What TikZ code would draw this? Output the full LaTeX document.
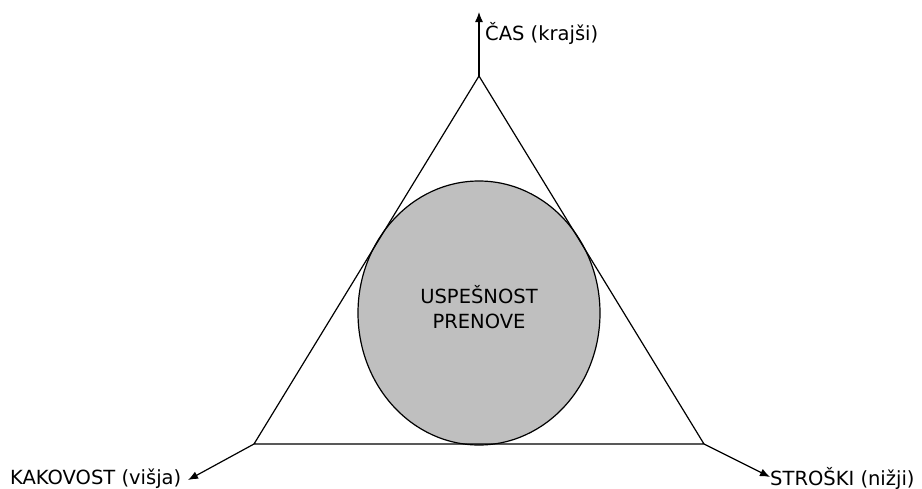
\documentclass[tikz,border=0pt]{standalone}
\usepackage{fontspec}
\setmainfont{DejaVu Sans}
\usetikzlibrary{arrows.meta,shapes.geometric}
\tikzset{
  edge/.style={line width=1.2pt, black},
  axis/.style={line width=1.2pt, black, -{Latex[length=10pt,width=8pt]}},
  lbl/.style={font=\fontsize{19.5}{22}\selectfont, inner sep=0pt},
  core/.style={ellipse, draw=black, line width=1.2pt, fill=black!25,
    minimum width=242pt, minimum height=264pt, inner sep=0pt},
  coretext/.style={align=center, inner sep=0pt,
    font=\fontsize{19.5}{25}\selectfont}
}
\begin{document}
\begin{tikzpicture}[x=1pt,y=-1pt]
  \useasboundingbox (0,0) rectangle (922,488);
  % triangle corners
  \coordinate (top) at (479,76);
  \coordinate (bl) at (254,444);
  \coordinate (br) at (704,444);
  % axis ends
  \coordinate (topEnd) at (479,12);
  \coordinate (blEnd) at (188,480);
  \coordinate (brEnd) at (770,477);
  % central ellipse
  \node[core] (succ) at (479,313) {};
  \node[coretext] (succtext) at (479,307) {USPEŠNOST\\PRENOVE};
  \draw[edge] (top) -- (bl) -- (br) -- cycle;
  % axes
  \draw[axis] (top) -- (topEnd);
  \draw[axis] (bl) -- (blEnd);
  \draw[axis] (br) -- (brEnd);
  % labels
  \node[lbl, anchor=base west] (cas) at (485,40) {ČAS (krajši)};
  \node[lbl, anchor=base west] (kak) at (10,484) {KAKOVOST (višja)};
  \node[lbl, anchor=base west] (str) at (770,485) {STROŠKI (nižji)};
\end{tikzpicture}
\end{document}
